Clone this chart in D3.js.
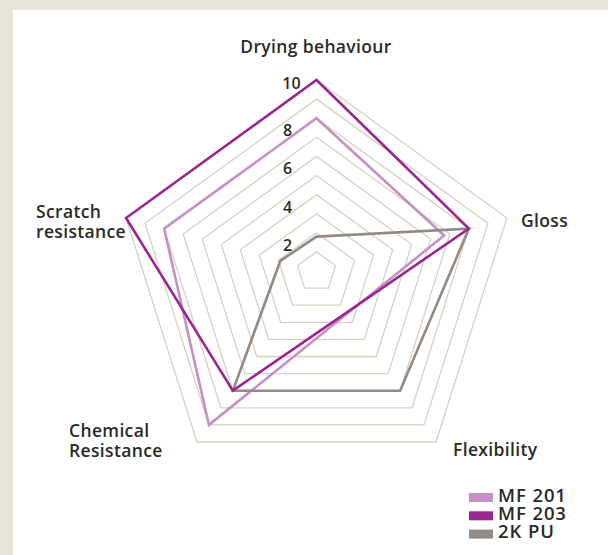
<!DOCTYPE html>
<html>
<head>
<meta charset="utf-8">
<script src="https://cdn.jsdelivr.net/npm/d3@7"></script>
<style>
body{margin:0;background:#e8e4dc;}
text{font-family:"Open Sans",Lato,sans-serif;font-weight:600;fill:#2b2a2a;}
</style>
</head>
<body>
<svg id="radar"></svg>
<script>
// axes, clockwise from the top
var axes=["Drying behaviour","Gloss","Flexibility","Chemical Resistance","Scratch resistance"]
var seriesNames=["MF 201","MF 203","2K PU"]
var mf201=[8,6.7,null,9,8]
var mf203=[10,8,null,7,10]
var pu2k=[1.8,8,7,7,1.9]
var ringValues=[1,2,3,4,5,6,7,8,9,10]
var tickLabels=[2,4,6,8,10]

var colors=["#c690c4","#9a2790","#948a85"]

var screen={width:608,height:555}
var cx=316.5, cy=271
// the pentagon in the picture is a bit irregular, so each axis has its own angle and length
var angles=[0,74.45,145.05,214.95,285.55]
var lengths=[191,197.7,208.6,208.6,197.7]

var svg=d3.select("#radar")
    .attr("width",screen.width)
    .attr("height",screen.height)

svg.append("rect")
    .attr("width",screen.width).attr("height",screen.height)
    .attr("fill","#e8e4dc")
svg.append("rect")
    .attr("x",13).attr("y",10)
    .attr("width",screen.width-13).attr("height",screen.height-10)
    .attr("fill","#ffffff")

var rScales=lengths.map(function(L){
    return d3.scaleLinear().domain([0,10]).range([0,L])
})

var point=function(i,v){
    var a=angles[i]*Math.PI/180
    var r=rScales[i](v)
    return [cx+r*Math.sin(a),cy-r*Math.cos(a)]
}

var ringLine=d3.line().curve(d3.curveLinearClosed)

//grid rings
svg.append("g")
    .selectAll("path")
    .data(ringValues)
    .enter()
    .append("path")
    .attr("d",function(v){
        return ringLine(axes.map(function(a,i){return point(i,v)}))
    })
    .attr("fill","none")
    .attr("stroke","#d9d0c1")
    .attr("stroke-width",1.3)

//series
var allSeries=[mf201,pu2k,mf203]
var allColors=[colors[0],colors[2],colors[1]]
svg.append("g")
    .selectAll("path")
    .data(allSeries)
    .enter()
    .append("path")
    .attr("d",function(vals){
        var pts=[]
        vals.forEach(function(v,i){
            if(v!==null){pts.push(point(i,v))}
        })
        return ringLine(pts)
    })
    .attr("fill","none")
    .attr("stroke",function(d,i){return allColors[i]})
    .attr("stroke-width",2.6)
    .attr("stroke-linejoin","miter")

//tick labels along the top axis
svg.append("g")
    .selectAll("text")
    .data(tickLabels)
    .enter()
    .append("text")
    .attr("x",function(v){return v==10?cx-25:cx-29})
    .attr("y",function(v){return point(0,v)[1]+(v==10?8.5:18)})
    .attr("text-anchor","middle")
    .attr("font-size","16px")
    .text(function(v){return v})

//axis labels
var labelPos=[
    {x:316,y:53,anchor:"middle"},
    {x:521,y:227,anchor:"start"},
    {x:453,y:456,anchor:"start"},
    {x:69,y:437,anchor:"start"},
    {x:36,y:218,anchor:"start"}
]
var labels=svg.append("g")
    .selectAll("text")
    .data(axes)
    .enter()
    .append("text")
    .attr("x",function(d,i){return labelPos[i].x})
    .attr("y",function(d,i){return labelPos[i].y})
    .attr("text-anchor",function(d,i){return labelPos[i].anchor})
    .attr("font-size","17.5px")
    .attr("letter-spacing","0.35px")
labels.each(function(d,i){
    var words=d.split(" ")
    var t=d3.select(this)
    if(i>=3){
        t.append("tspan").attr("x",labelPos[i].x).text(words[0])
        t.append("tspan").attr("x",labelPos[i].x).attr("dy",19.5).text(words[1])
    }else{
        t.text(d)
    }
})

//legend
var legend=svg.append("g")
    .selectAll("g")
    .data(seriesNames)
    .enter()
    .append("g")
    .attr("transform",function(d,i){return "translate(469,"+(493+i*18.3)+")"})
legend.append("rect")
    .attr("width",24).attr("height",9)
    .attr("fill",function(d,i){return colors[i]})
legend.append("text")
    .attr("x",29).attr("y",8.5)
    .attr("font-size","18.5px")
    .attr("letter-spacing","0.9px")
    .text(function(d){return d})
</script>
</body>
</html>
